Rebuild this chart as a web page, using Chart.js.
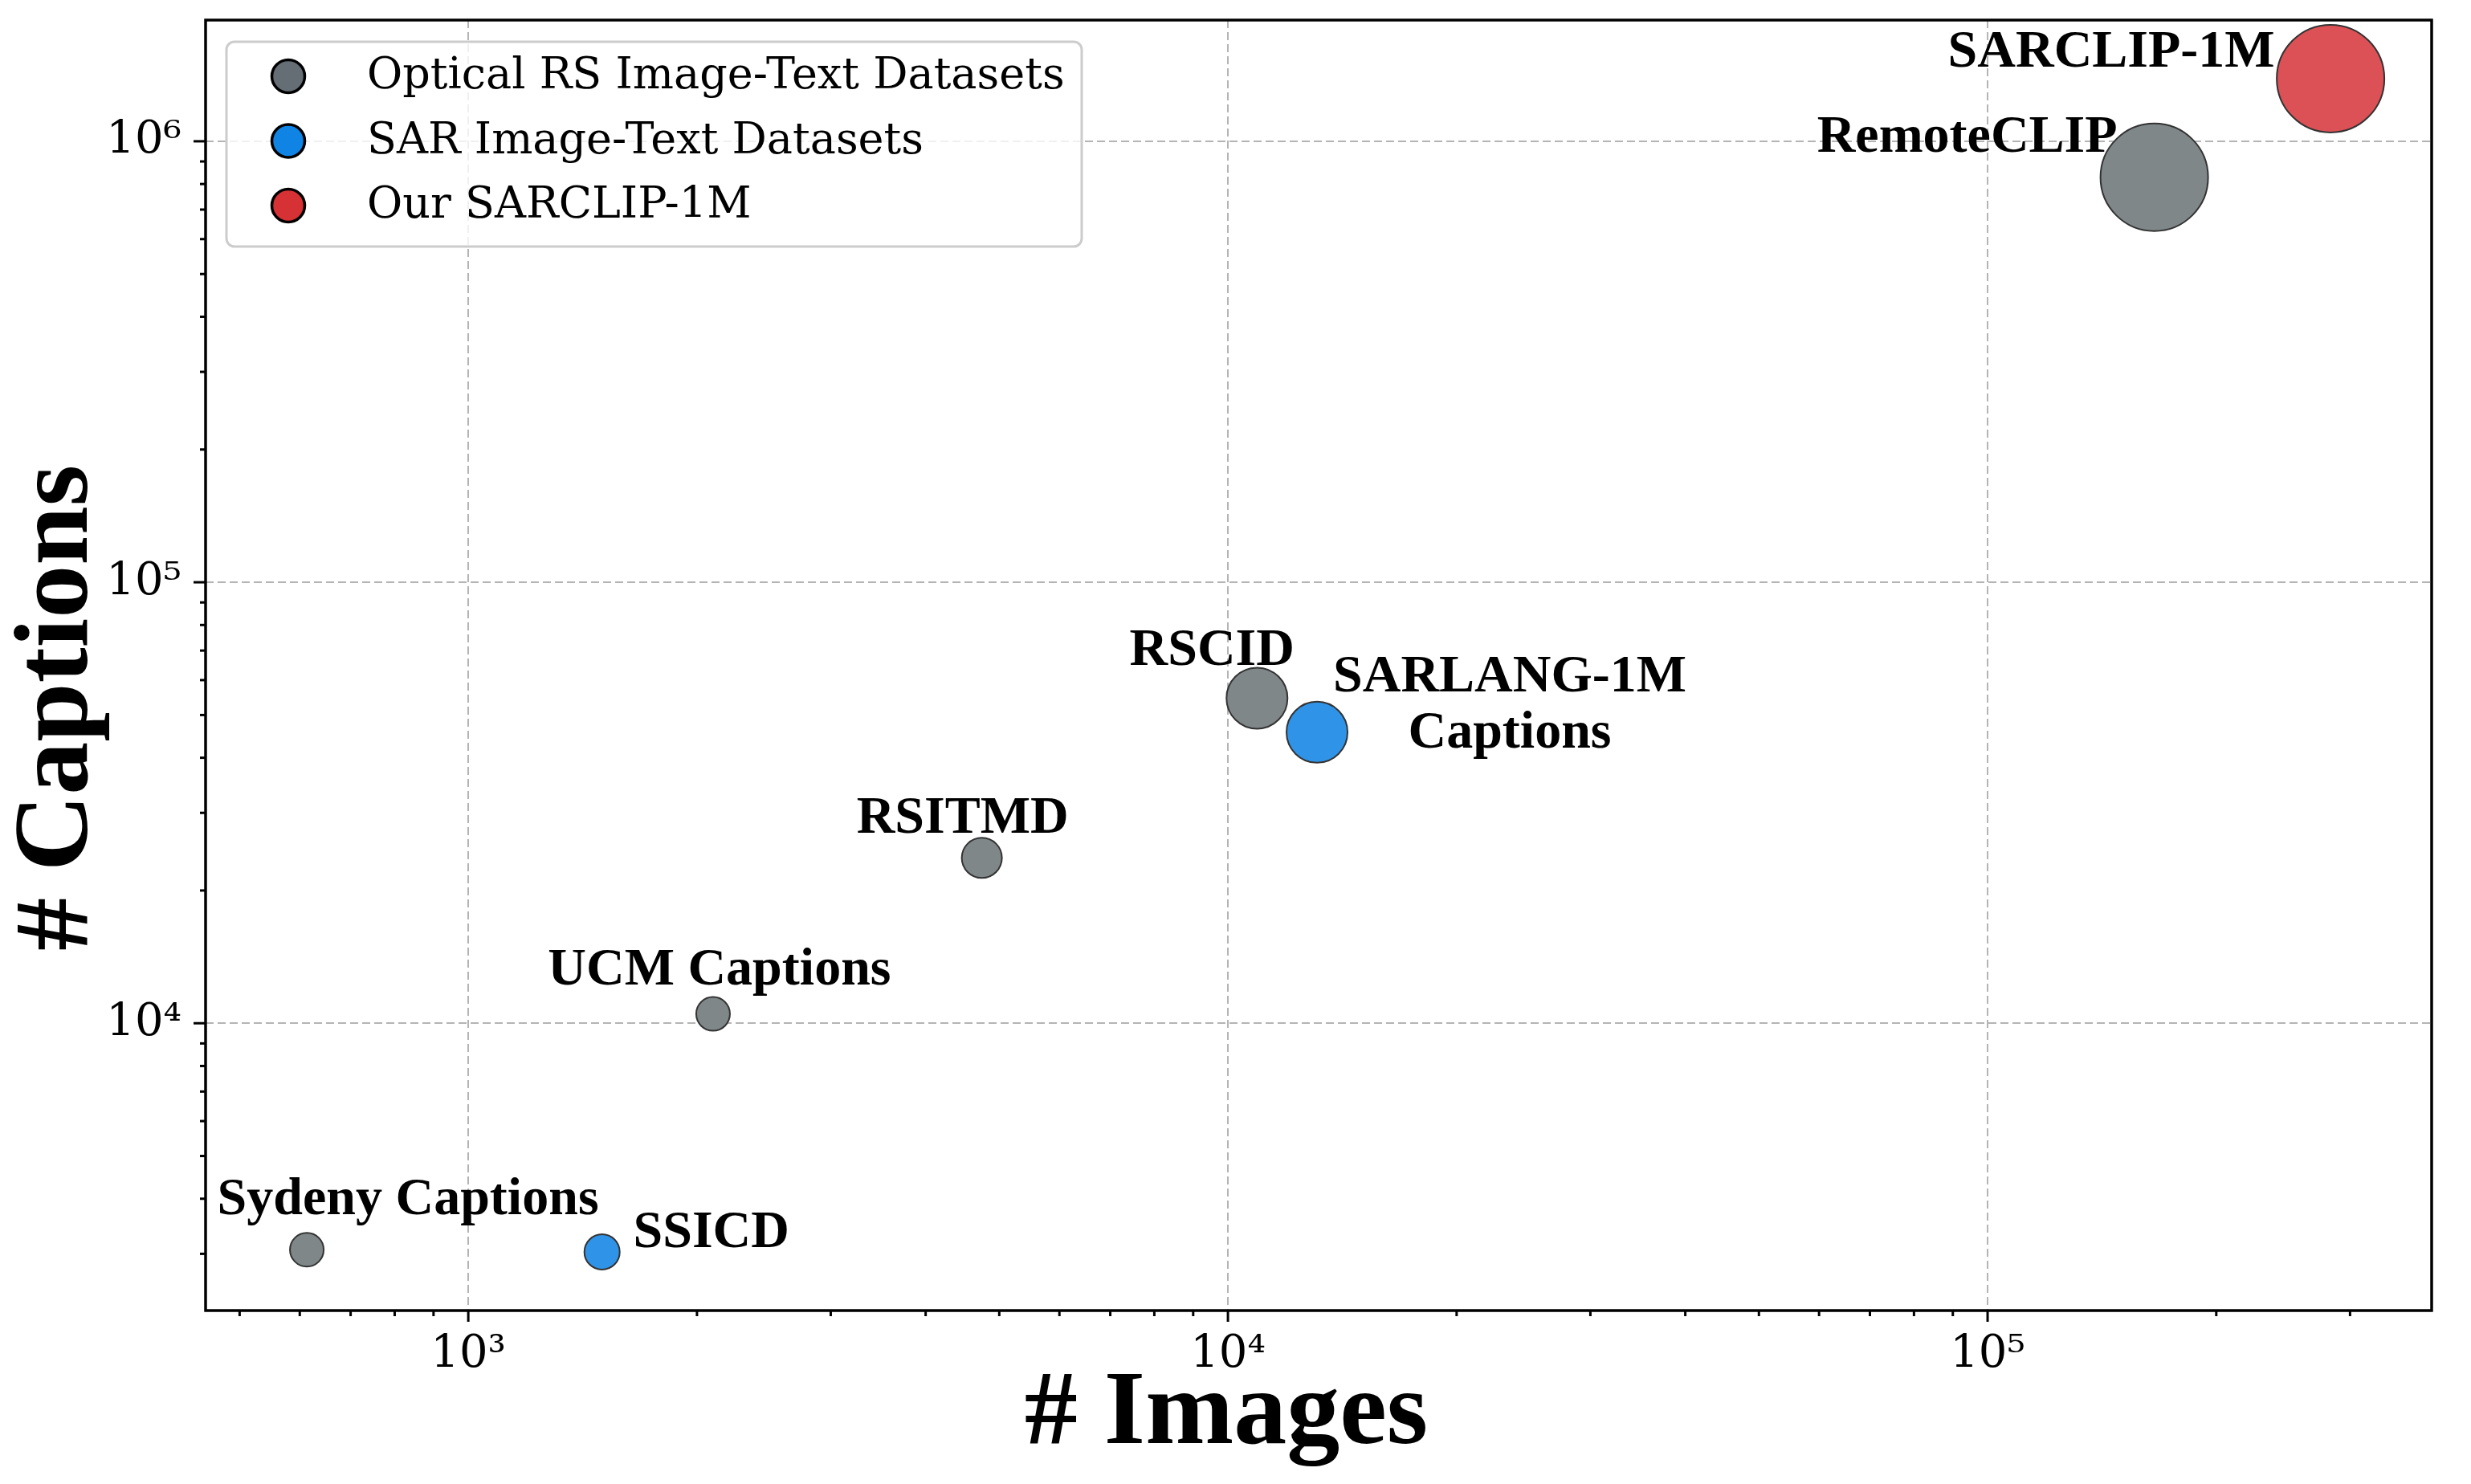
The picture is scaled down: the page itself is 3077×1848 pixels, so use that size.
<!DOCTYPE html>
<html>
<head>
<meta charset="utf-8">
<script src="https://cdn.jsdelivr.net/npm/chart.js@4.4.1/dist/chart.umd.min.js"></script>
<style>
  html, body { margin: 0; padding: 0; background: #fff; }
  canvas { display: block; }
</style>
</head>
<body>
<canvas id="myChart" width="3077" height="1848"></canvas>
<script>
/* DATA */

const opticalNames = ['Sydeny Captions', 'UCM Captions', 'RSITMD', 'RSCID', 'RemoteCLIP'];
const opticalImages = [613, 2100, 4743, 10921, 165745];
const opticalCaptions = [3065, 10500, 23715, 54605, 828725];
const opticalBubble = [21, 21, 25, 38, 67];

const sarNames = ['SSICD', 'SARLANG-1M\nCaptions'];
const sarImages = [1500, 13100];
const sarCaptions = [3030, 45700];
const sarBubble = [22, 38];

const oursNames = ['SARCLIP-1M'];
const oursImages = [282800];
const oursCaptions = [1387000];
const oursBubble = [67];

const seriesNames = ['Optical RS Image-Text Datasets', 'SAR Image-Text Datasets', 'Our SARCLIP-1M'];

const xMajorTicks = [1e3, 1e4, 1e5];
const yMajorTicks = [1e4, 1e5, 1e6];
const xRange = [451, 384200];
const yRange = [2231, 1883000];

const xTitle = '# Images';
const yTitle = '# Captions';

/* STYLE */

const markerFill = ['#7f8789', '#2f94e7', '#dc5156'];
const legendFill = ['#646e74', '#0f84e4', '#d63134'];
const labelFont = 'bold 66px "Liberation Serif", "Times New Roman", serif';
const titleFont = 'bold 132px "Liberation Serif", "Times New Roman", serif';
const tickFont = '"DejaVu Serif", serif';

// where each annotation sits relative to its marker (text centre, baseline)
const labelOffsets = {
  'Sydeny Captions': [126, -44],
  'UCM Captions': [8, -37],
  'RSITMD': [-24, -31],
  'RSCID': [-56, -41],
  'RemoteCLIP': [-233, -32],
  'SSICD': [136, -6],
  'SARLANG-1M\nCaptions': [240, -51],
  'SARCLIP-1M': [-273, -15]
};

const sup = {'0':'⁰','1':'¹','2':'²','3':'³','4':'⁴','5':'⁵','6':'⁶','7':'⁷','8':'⁸','9':'⁹'};

function isMajor(v) {
  const l = Math.log10(v);
  return Math.abs(l - Math.round(l)) < 1e-9;
}

function tickLabel(v) {
  const e = Math.round(Math.log10(v));
  return '10' + String(e).split('').map(d => sup[d]).join('');
}

function logTicks(min, max) {
  let out = [];
  for (let e = Math.floor(Math.log10(min)); e <= Math.ceil(Math.log10(max)); e++) {
    for (let k = 1; k <= 9; k++) {
      const v = k * Math.pow(10, e);
      if (v >= min && v <= max) out.push({value: v});
    }
  }
  return out;
}

function toPoints(xs, ys) {
  return xs.map((x, i) => ({x: x, y: ys[i]}));
}

/* PLUGINS: FRAME, TICK MARKS, ANNOTATIONS, LEGEND, AXIS TITLES */

const framePlugin = {
  id: 'frame',
  afterDraw(chart) {
    const ctx = chart.ctx;
    const a = chart.chartArea;
    ctx.save();
    // tick marks
    ctx.strokeStyle = '#000';
    ctx.lineWidth = 3;
    chart.scales.x.ticks.forEach(t => {
      const px = chart.scales.x.getPixelForValue(t.value);
      const len = isMajor(t.value) ? 14 : 7;
      ctx.beginPath();
      ctx.moveTo(px, a.bottom);
      ctx.lineTo(px, a.bottom + len);
      ctx.stroke();
    });
    chart.scales.y.ticks.forEach(t => {
      const py = chart.scales.y.getPixelForValue(t.value);
      const len = isMajor(t.value) ? 15 : 7;
      ctx.beginPath();
      ctx.moveTo(a.left, py);
      ctx.lineTo(a.left - len, py);
      ctx.stroke();
    });
    ctx.lineWidth = 3.5;
    ctx.strokeRect(a.left, a.top, a.right - a.left, a.bottom - a.top);
    ctx.restore();
  }
};

const labelPlugin = {
  id: 'pointLabels',
  afterDatasetsDraw(chart) {
    const ctx = chart.ctx;
    ctx.save();
    ctx.font = labelFont;
    ctx.fillStyle = '#000';
    ctx.textAlign = 'center';
    ctx.textBaseline = 'alphabetic';
    chart.data.datasets.forEach((ds, di) => {
      const meta = chart.getDatasetMeta(di);
      meta.data.forEach((pt, i) => {
        const name = ds.names[i];
        const off = labelOffsets[name] || [0, -40];
        name.split('\n').forEach((line, li) => {
          ctx.fillText(line, pt.x + off[0], pt.y + off[1] + li * 70);
        });
      });
    });
    ctx.restore();
  }
};

const legendPlugin = {
  id: 'boxLegend',
  afterDraw(chart) {
    const ctx = chart.ctx;
    const a = chart.chartArea;
    const left = a.left + 26, top = a.top + 27;
    ctx.save();
    ctx.beginPath();
    ctx.roundRect(left, top, 1065, 255, 10);
    ctx.fillStyle = 'rgba(255,255,255,0.8)';
    ctx.fill();
    ctx.strokeStyle = '#cccccc';
    ctx.lineWidth = 3;
    ctx.stroke();
    ctx.font = '54px ' + tickFont;
    ctx.textBaseline = 'middle';
    ctx.textAlign = 'left';
    chart.data.datasets.forEach((ds, i) => {
      const cy = top + 43 + i * 80.5;
      ctx.beginPath();
      ctx.arc(left + 77, cy, 20.5, 0, Math.PI * 2);
      ctx.fillStyle = legendFill[i];
      ctx.fill();
      ctx.strokeStyle = '#000';
      ctx.lineWidth = 3.5;
      ctx.stroke();
      ctx.fillStyle = '#000';
      ctx.fillText(ds.label, left + 175, cy + 1);
    });
    ctx.restore();
  }
};

const titlePlugin = {
  id: 'axisTitles',
  afterDraw(chart) {
    const ctx = chart.ctx;
    const a = chart.chartArea;
    ctx.save();
    ctx.font = titleFont;
    ctx.fillStyle = '#000';
    ctx.textAlign = 'center';
    ctx.textBaseline = 'alphabetic';
    ctx.fillText(xTitle, a.left + (a.right - a.left) * 0.4585, 1797);
    ctx.translate(108, a.top + (a.bottom - a.top) * 0.533);
    ctx.rotate(-Math.PI / 2);
    ctx.fillText(yTitle, 0, 0);
    ctx.restore();
  }
};

/* CREATE CHART WITH CHART.JS */

function makeDataset(i, names, xs, ys, sizes) {
  return {
    label: seriesNames[i],
    names: names,
    data: toPoints(xs, ys),
    pointRadius: sizes,
    backgroundColor: markerFill[i],
    borderColor: '#333333',
    borderWidth: 2,
    clip: false
  };
}

function noLabelPadding(s) {
  s.paddingTop = 0;
  s.paddingBottom = 0;
  s.paddingLeft = 0;
  s.paddingRight = 0;
}

const ctx = document.getElementById('myChart').getContext('2d');
const myChart = new Chart(ctx, {
  type: 'scatter',
  data: {
    datasets: [
      makeDataset(0, opticalNames, opticalImages, opticalCaptions, opticalBubble),
      makeDataset(1, sarNames, sarImages, sarCaptions, sarBubble),
      makeDataset(2, oursNames, oursImages, oursCaptions, oursBubble)
    ]
  },
  options: {
    responsive: false,
    animation: false,
    events: [],
    layout: { autoPadding: false, padding: { left: 0, top: 25, right: 49, bottom: 0 } },
    plugins: { legend: { display: false }, tooltip: { enabled: false } },
    scales: {
      x: {
        type: 'logarithmic',
        min: xRange[0],
        max: xRange[1],
        afterBuildTicks: s => { s.ticks = logTicks(xRange[0], xRange[1]); },
        afterFit: s => { s.height = 216; noLabelPadding(s); },
        border: { display: false, dash: [10, 5] },
        grid: {
          drawTicks: false,
          color: c => isMajor(c.tick.value) ? '#b4b4b4' : 'rgba(0,0,0,0)',
          lineWidth: 2
        },
        ticks: {
          autoSkip: false,
          maxRotation: 0,
          padding: 22,
          color: '#000',
          font: { family: tickFont, size: 56 },
          callback: v => isMajor(v) ? tickLabel(v) : ''
        }
      },
      y: {
        type: 'logarithmic',
        min: yRange[0],
        max: yRange[1],
        afterBuildTicks: s => { s.ticks = logTicks(yRange[0], yRange[1]); },
        afterFit: s => { s.width = 256; noLabelPadding(s); },
        border: { display: false, dash: [10, 5] },
        grid: {
          drawTicks: false,
          color: c => isMajor(c.tick.value) ? '#b4b4b4' : 'rgba(0,0,0,0)',
          lineWidth: 2
        },
        ticks: {
          autoSkip: false,
          padding: 30,
          color: '#000',
          font: { family: tickFont, size: 56 },
          callback: v => isMajor(v) ? tickLabel(v) : ''
        }
      }
    }
  },
  plugins: [labelPlugin, framePlugin, legendPlugin, titlePlugin]
});
</script>
</body>
</html>
